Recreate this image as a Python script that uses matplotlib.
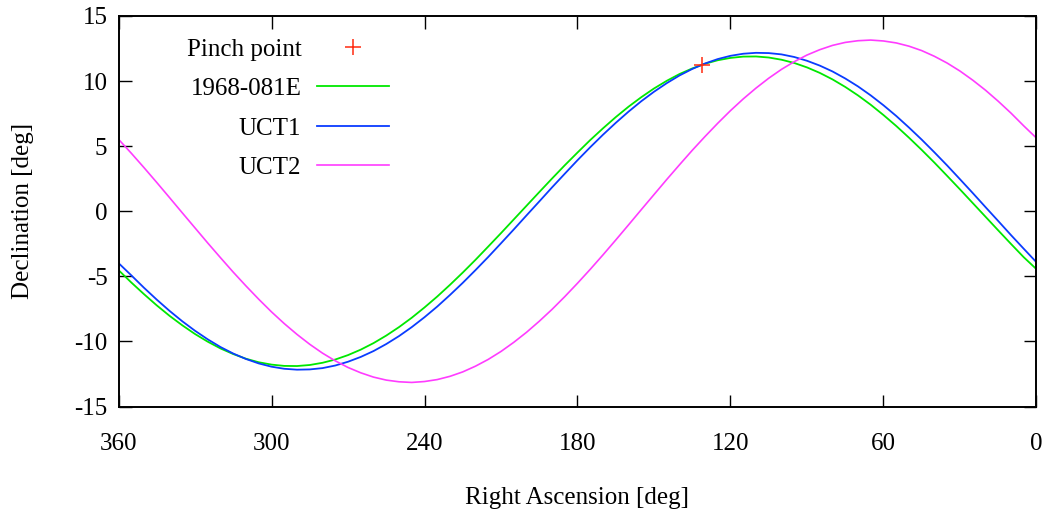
import matplotlib
matplotlib.use("Agg")
import matplotlib.pyplot as plt

# Right ascension sample positions (deg), every 5 deg
ra = list(range(0, 361, 5))

# Declination (deg)
dec_1968_081e = [-4.45, -3.53, -2.51, -1.47, -0.42, 0.63, 1.68, 2.71, 3.73, 4.71,
                 5.65, 6.55, 7.39, 8.18, 8.90, 9.55, 10.13, 10.63, 11.05, 11.39,
                 11.64, 11.81, 11.89, 11.88, 11.78, 11.60, 11.33, 10.97, 10.54, 10.02,
                 9.43, 8.76, 8.03, 7.23, 6.37, 5.47, 4.51, 3.53, 2.51, 1.47,
                 0.42, -0.63, -1.68, -2.71, -3.73, -4.71, -5.65, -6.55, -7.39, -8.18,
                 -8.90, -9.55, -10.13, -10.63, -11.05, -11.39, -11.64, -11.81, -11.89, -11.88,
                 -11.78, -11.60, -11.33, -10.97, -10.54, -10.02, -9.43, -8.76, -8.03, -7.23,
                 -6.37, -5.47, -4.52]
dec_uct1 = [-3.92, -2.88, -1.83, -0.75, 0.32, 1.40, 2.46, 3.51, 4.52, 5.50,
            6.43, 7.32, 8.14, 8.90, 9.59, 10.20, 10.74, 11.19, 11.56, 11.85,
            12.05, 12.15, 12.17, 12.10, 11.94, 11.69, 11.35, 10.93, 10.43, 9.84,
            9.18, 8.45, 7.65, 6.79, 5.88, 4.92, 3.92, 2.88, 1.83, 0.75,
            -0.32, -1.40, -2.46, -3.51, -4.52, -5.50, -6.43, -7.32, -8.14, -8.90,
            -9.59, -10.20, -10.74, -11.19, -11.56, -11.85, -12.05, -12.15, -12.17, -12.10,
            -11.94, -11.69, -11.35, -10.93, -10.43, -9.84, -9.18, -8.45, -7.65, -6.79,
            -5.88, -4.92, -3.98]
dec_uct2 = [5.62, 6.56, 7.54, 8.45, 9.30, 10.07, 10.77, 11.38, 11.90, 12.34,
            12.68, 12.93, 13.08, 13.15, 13.10, 12.97, 12.74, 12.41, 12.00, 11.49,
            10.90, 10.22, 9.46, 8.63, 7.73, 6.76, 5.74, 4.68, 3.57, 2.44,
            1.28, 0.12, -1.05, -2.21, -3.35, -4.46, -5.53, -6.56, -7.54, -8.45,
            -9.30, -10.07, -10.77, -11.38, -11.90, -12.34, -12.68, -12.93, -13.08, -13.15,
            -13.10, -12.97, -12.74, -12.41, -12.00, -11.49, -10.90, -10.22, -9.46, -8.63,
            -7.73, -6.76, -5.74, -4.68, -3.57, -2.44, -1.28, -0.12, 1.05, 2.21,
            3.35, 4.46, 5.53]

pinch_ra = [131.0]
pinch_dec = [11.23]

x_ticks = [360, 300, 240, 180, 120, 60, 0]
y_ticks = [15, 10, 5, 0, -5, -10, -15]

plt.rcParams['font.family'] = ['Liberation Serif', 'DejaVu Serif']
plt.rcParams['axes.unicode_minus'] = False

FS = 18

fig = plt.figure(figsize=(10.46, 5.14), dpi=100)
ax = fig.add_axes([0.1133, 0.2091, 0.8776, 0.7598])

l_pinch, = ax.plot(pinch_ra, pinch_dec, linestyle='none', marker='+', color='#ff2a10',
                   markersize=11, markeredgewidth=1.1, label='Pinch point', zorder=5)
l_g, = ax.plot(ra, dec_1968_081e, color='#00e800', lw=1.3, label='1968-081E')
l_b, = ax.plot(ra, dec_uct1, color='#0a3cff', lw=1.3, label='UCT1')
l_m, = ax.plot(ra, dec_uct2, color='#ff3cff', lw=1.2, label='UCT2')

ax.set_xlim(360, 0)
ax.set_ylim(-15, 15)
ax.set_xticks(x_ticks)
ax.set_yticks(y_ticks)
ax.tick_params(direction='in', length=9, width=1.0, top=True, right=True,
               labelsize=FS, colors='black')
ax.tick_params(axis='x', pad=19)
ax.tick_params(axis='y', pad=8)
for sp in ax.spines.values():
    sp.set_linewidth(1.4)

ax.set_xlabel('Right Ascension [deg]', fontsize=FS)
ax.set_ylabel('Declination [deg]', fontsize=FS)
ax.xaxis.set_label_coords(0.5, -0.205)
ax.yaxis.set_label_coords(-0.092, 0.5)

handles = [l_pinch, l_g, l_b, l_m]
leg = ax.legend(handles=handles, loc='upper right',
                bbox_to_anchor=(0.314, 0.988), frameon=False, markerfirst=False,
                fontsize=FS, handlelength=2.88, handletextpad=0.64, labelspacing=0.68,
                borderpad=0.2)

fig.savefig('out.png', dpi=100)
